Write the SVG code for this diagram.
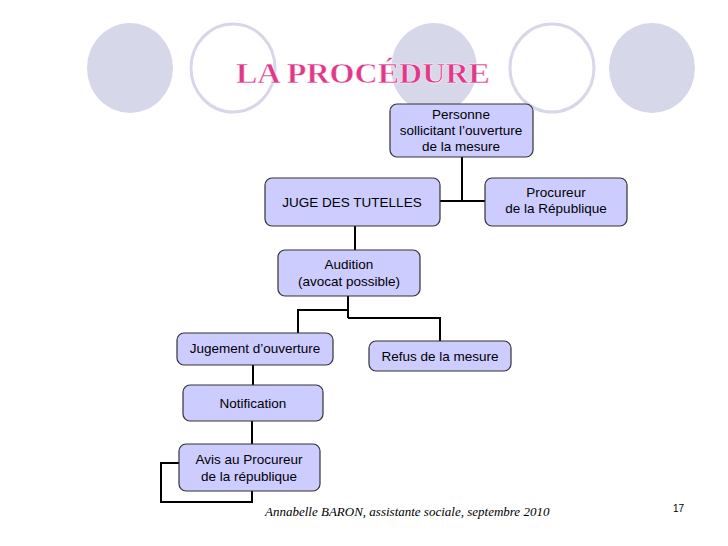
<svg xmlns="http://www.w3.org/2000/svg" width="728" height="546" viewBox="0 0 728 546">
<style>
.cf{fill:#d7d7ea}
.co{fill:#fff;stroke:#d7d7ea;stroke-width:3}
.n rect{fill:#ccccff;stroke:#333;stroke-width:1.2}
.n text{font-family:"Liberation Sans",Arial,sans-serif;font-size:13.5px;fill:#000;text-anchor:middle}
.c{fill:none;stroke:#000;stroke-width:2}
</style>
<rect width="728" height="546" fill="#fff"/>
<ellipse class="cf" cx="130" cy="68" rx="43" ry="45"/>
<ellipse class="co" cx="233" cy="68" rx="42" ry="44"/>
<ellipse class="cf" cx="434" cy="68" rx="43" ry="45"/>
<ellipse class="co" cx="552" cy="68" rx="42" ry="44"/>
<ellipse class="cf" cx="652" cy="68" rx="43" ry="45"/>
<text x="236" y="83" font-family="'Liberation Serif',serif" font-weight="bold" font-size="30" fill="#e0398a" stroke="#fff" stroke-width="0.5" textLength="254" lengthAdjust="spacingAndGlyphs">LA PROCÉDURE</text>
<g id="connectors">
<path class="c" d="M462 157V201M440 201H485"/>
<path class="c" d="M355 226V250"/>
<path class="c" d="M348 296V318M348 310H298V333M348 318H440V341"/>
<path class="c" d="M253 365V385M252 421V444"/>
<path class="c" d="M179 463H161V502H252V491"/>
</g>
<g id="personne" class="n"><rect x="390" y="104" width="143" height="53" rx="7"/><text x="461" y="119">Personne</text><text x="461" y="135">sollicitant l’ouverture</text><text x="461" y="151">de la mesure</text></g>
<g id="juge" class="n"><rect x="265" y="178" width="175" height="48" rx="7"/><text x="352" y="207">JUGE DES TUTELLES</text></g>
<g id="procureur" class="n"><rect x="485" y="178" width="142" height="48" rx="7"/><text x="556" y="197">Procureur</text><text x="556" y="213">de la République</text></g>
<g id="audition" class="n"><rect x="278" y="250" width="142" height="46" rx="7"/><text x="349" y="269">Audition</text><text x="349" y="286">(avocat possible)</text></g>
<g id="jugement" class="n"><rect x="177" y="333" width="156" height="32" rx="7"/><text x="255" y="353">Jugement d’ouverture</text></g>
<g id="refus" class="n"><rect x="369" y="341" width="142" height="30" rx="7"/><text x="440" y="361">Refus de la mesure</text></g>
<g id="notification" class="n"><rect x="183" y="385" width="140" height="36" rx="7"/><text x="253" y="408">Notification</text></g>
<g id="avis" class="n"><rect x="179" y="444" width="141" height="47" rx="7"/><text x="249" y="464">Avis au Procureur</text><text x="249" y="481">de la république</text></g>
<text x="265" y="516" font-family="'Liberation Serif',serif" font-style="italic" font-size="13">Annabelle BARON, assistante sociale, septembre 2010</text>
<text x="673" y="512" font-family="'Liberation Sans',sans-serif" font-size="10">17</text>
</svg>
